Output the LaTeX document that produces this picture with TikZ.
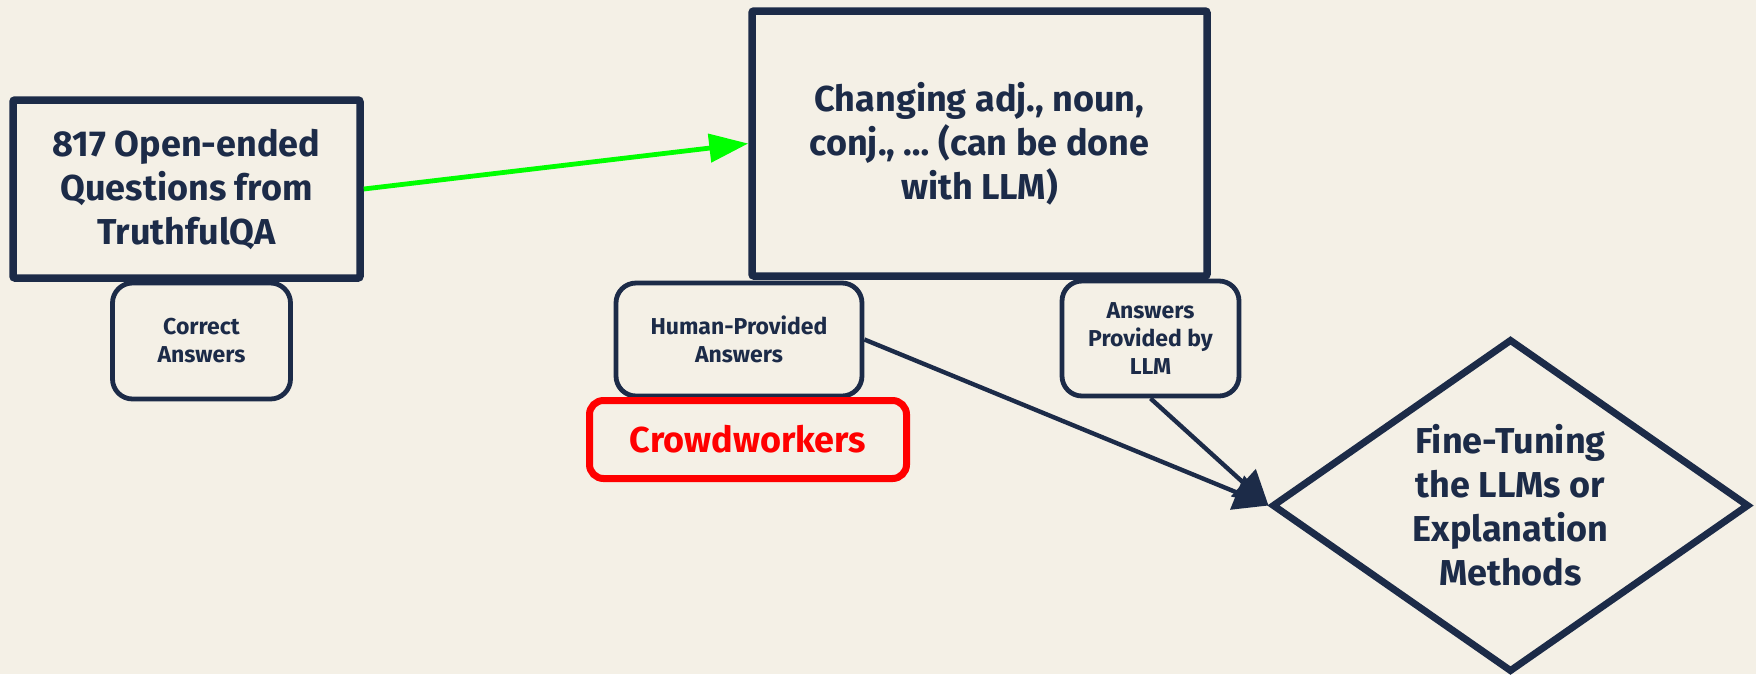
\documentclass[tikz,border=0pt]{standalone}
\usepackage{fontspec}
\setmainfont{Fira Sans}
\usetikzlibrary{shapes.geometric,arrows.meta}
\definecolor{bgcream}{RGB}{244,240,230}
\definecolor{navy}{RGB}{28,43,72}
\definecolor{brightgreen}{RGB}{0,255,0}
\tikzset{
  bigbox/.style={draw=navy, fill=bgcream, line width=3.75pt, rounded corners=1pt, align=center, text=navy, inner sep=0pt, font=\bfseries\fontsize{18}{22}\selectfont},
  smallbox/.style={draw=navy, fill=bgcream, line width=2.4pt, rounded corners=10pt, align=center, text=navy, inner sep=0pt, font=\bfseries\fontsize{11.5}{14}\selectfont},
  redbox/.style={draw=red, fill=bgcream, line width=3.5pt, rounded corners=7pt, align=center, text=red, inner sep=0pt, font=\bfseries\fontsize{18}{22}\selectfont},
  decision/.style={diamond, draw=navy, fill=bgcream, line width=3.5pt, align=center, text=navy, inner sep=0pt, shape aspect=1.43, font=\bfseries\fontsize{18}{22}\selectfont},
  greenarrow/.style={draw=brightgreen, line width=2.4pt, -{Triangle[length=19.5pt,width=14pt]}},
  navyarrow/.style={draw=navy, line width=2.2pt, -{Triangle[length=17pt,width=18pt]}}
}
\begin{document}
\begin{tikzpicture}[x=0.5pt,y=-0.5pt]
\fill [bgcream] (0,0) rectangle (1756,674);

\node at (186.5,189) [bigbox, minimum width=173.5pt, minimum height=89pt] (questions) {817 Open-ended\\Questions from\\TruthfulQA};
\node at (979.5,143.5) [bigbox, minimum width=227.5pt, minimum height=132.5pt] (changing) {Changing adj., noun,\\conj., … (can be done\\with LLM)};

\node at (201.5,341) [smallbox, minimum width=89pt, minimum height=58pt] (correct) {Correct\\Answers};
\node at (739,339.5) [smallbox, minimum width=123pt, minimum height=56.5pt] (human) {Human-Provided\\Answers};
\node at (1150.5,338.5) [smallbox, minimum width=88.5pt, minimum height=57.5pt] (llmanswers) {Answers\\Provided by\\LLM};
\node at (748,439.5) [redbox, minimum width=158.5pt, minimum height=39pt] (crowd) {Crowdworkers};

\node at (1510.5,505.5) [decision, minimum width=238.5pt, minimum height=166.5pt] (tuning) {Fine-Tuning\\the LLMs or\\Explanation\\Methods};

\draw [greenarrow] (questions.east) -- (changing.west);
\draw [navyarrow] (human.east) -- (tuning.west);
\draw [navyarrow] (llmanswers.south) -- (tuning.west);
\end{tikzpicture}
\end{document}
